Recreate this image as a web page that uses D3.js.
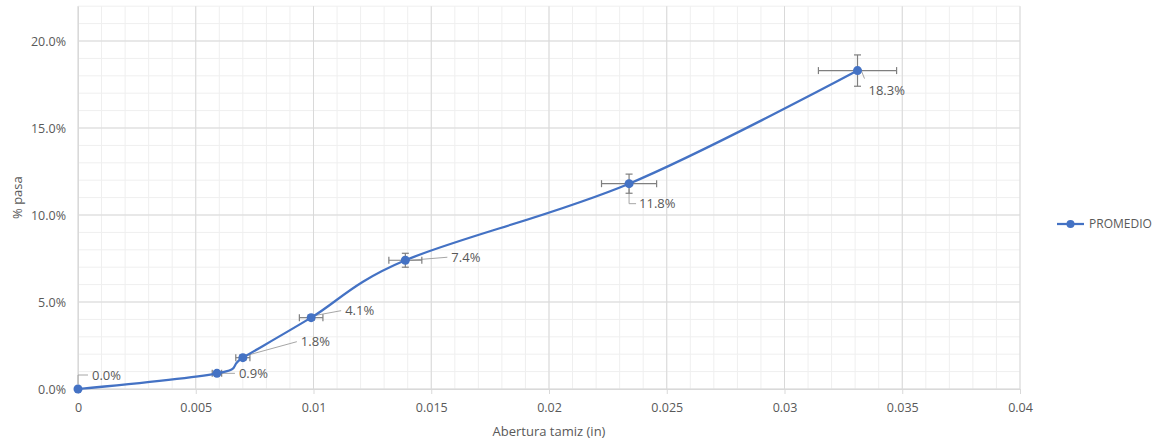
<!DOCTYPE html>
<html lang="es">
<head>
<meta charset="utf-8">
<title>% pasa vs Abertura tamiz</title>
<style>
  body { margin: 0; background: #fff; }
  svg text { font-family: "Open Sans", Lato, sans-serif; fill: #595959; }
</style>
</head>
<body>
<div id="chart"></div>
<script src="https://d3js.org/d3.v7.min.js"></script>
<script>
// data
var aberturas = [0, 0.0059, 0.0070, 0.0099, 0.0139, 0.0234, 0.0331];
var pasa      = [0, 0.009, 0.018, 0.041, 0.074, 0.118, 0.183];
var errX      = [0, 0.0002, 0.0003, 0.0005, 0.0007, 0.00117, 0.00166];
var errY      = [0, 0.0005, 0.0015, 0.0015, 0.004, 0.0055, 0.009];
var xTicks    = [0, 0.005, 0.01, 0.015, 0.02, 0.025, 0.03, 0.035, 0.04];
var yTicks    = [0, 0.05, 0.10, 0.15, 0.20];
var serieName = "PROMEDIO";

// where each data label sits relative to its point, and how the leader bends
var labelLayout = [
  {dx: 14, dy: -14, leader: "elbowUp"},
  {dx: 22, dy: 0,   leader: "straight"},
  {dx: 58, dy: -16, leader: "diag"},
  {dx: 34, dy: -7,  leader: "diag"},
  {dx: 46, dy: -3,  leader: "straight"},
  {dx: 10, dy: 20,  leader: "elbowDown"},
  {dx: 11, dy: 20,  leader: "diag"}
];

var W = 1169, H = 444;
var x = d3.scaleLinear().domain([0, 0.04]).range([78, 1020]);
var y = d3.scaleLinear().domain([0, 0.22]).range([389, 6.2]);

var svg = d3.select("#chart").append("svg")
    .attr("width", W).attr("height", H);

// minor grid
svg.append("g").selectAll("line")
    .data(d3.range(0, 0.0401, 0.001))
    .enter().append("line")
    .attr("x1", function (d) { return x(d); }).attr("x2", function (d) { return x(d); })
    .attr("y1", y(0)).attr("y2", y(0.22))
    .style("stroke", "#efefef").style("stroke-width", 1);
svg.append("g").selectAll("line")
    .data(d3.range(0, 0.2201, 0.01))
    .enter().append("line")
    .attr("x1", x(0)).attr("x2", x(0.04))
    .attr("y1", function (d) { return y(d); }).attr("y2", function (d) { return y(d); })
    .style("stroke", "#efefef").style("stroke-width", 1);

// major grid
svg.append("g").selectAll("line")
    .data(xTicks)
    .enter().append("line")
    .attr("x1", function (d) { return x(d); }).attr("x2", function (d) { return x(d); })
    .attr("y1", y(0)).attr("y2", y(0.22))
    .style("stroke", "#d9d9d9").style("stroke-width", 1);
svg.append("g").selectAll("line")
    .data(yTicks)
    .enter().append("line")
    .attr("x1", x(0)).attr("x2", x(0.04))
    .attr("y1", function (d) { return y(d); }).attr("y2", function (d) { return y(d); })
    .style("stroke", "#d9d9d9").style("stroke-width", 1);

// axes
var xAxis = svg.append("g")
    .attr("transform", "translate(0," + y(0) + ")")
    .call(d3.axisBottom(x).tickValues(xTicks).tickSize(5).tickPadding(9)
        .tickFormat(function (d) { return d === 0 ? "0" : String(+d.toFixed(3)); }));
var yAxis = svg.append("g")
    .attr("transform", "translate(" + x(0) + ",0)")
    .call(d3.axisLeft(y).tickValues(yTicks).tickSize(0).tickPadding(12)
        .tickFormat(d3.format(".1%")));
[xAxis, yAxis].forEach(function (a) {
  a.selectAll("path").style("stroke", "#d9d9d9");
  a.selectAll("line").style("stroke", "#d9d9d9");
  a.selectAll("text").style("font-size", "12.5px").style("fill", "#595959")
      .style("font-family", "'Open Sans', Lato, sans-serif");
});

// axis titles
svg.append("text")
    .attr("x", (x(0) + x(0.04)) / 2).attr("y", 436)
    .attr("text-anchor", "middle").style("font-size", "13px")
    .text("Abertura tamiz (in)");
svg.append("text")
    .attr("transform", "translate(22," + y(0.11) + ") rotate(-90)")
    .attr("text-anchor", "middle").style("font-size", "13px")
    .text("% pasa");

var points = aberturas.map(function (a, i) {
  return {x: a, y: pasa[i], ex: errX[i], ey: errY[i], lab: labelLayout[i]};
});

// data label leader lines + labels
var labels = svg.append("g");
points.forEach(function (p) {
  var px = x(p.x), py = y(p.y);
  var tx = px + p.lab.dx, ty = py + p.lab.dy;
  var path;
  if (p.lab.leader === "elbowUp") {
    path = "M" + px + "," + (py - 5) + "V" + ty + "H" + (tx - 4);
  } else if (p.lab.leader === "elbowDown") {
    path = "M" + px + "," + (py + 5) + "V" + ty + "H" + (tx - 3);
  } else if (p.lab.leader === "straight") {
    path = "M" + (px + 5) + "," + py + "L" + (tx - 4) + "," + ty;
  } else {
    path = "M" + (px + 3) + "," + (py - 2) + "L" + (tx - 4) + "," + (ty + (p.lab.dy > 0 ? -12 : 0));
  }
  labels.append("path").attr("d", path)
      .style("fill", "none").style("stroke", "#a6a6a6").style("stroke-width", 1);
  labels.append("text")
      .attr("x", tx).attr("y", ty).attr("dy", "0.35em")
      .style("font-size", "13px")
      .text(d3.format(".1%")(p.y));
});

// error bars
var eb = svg.append("g").style("stroke", "#7f7f7f").style("stroke-width", 1.2);
points.filter(function (p) { return p.ex > 0; }).forEach(function (p) {
  var px = x(p.x), py = y(p.y);
  var x0 = x(p.x - p.ex), x1 = x(p.x + p.ex);
  var y0 = y(p.y - p.ey), y1 = y(p.y + p.ey);
  eb.append("line").attr("x1", x0).attr("x2", x1).attr("y1", py).attr("y2", py);
  eb.append("line").attr("x1", x0).attr("x2", x0).attr("y1", py - 3.5).attr("y2", py + 3.5);
  eb.append("line").attr("x1", x1).attr("x2", x1).attr("y1", py - 3.5).attr("y2", py + 3.5);
  eb.append("line").attr("x1", px).attr("x2", px).attr("y1", y0).attr("y2", y1);
  eb.append("line").attr("x1", px - 3.5).attr("x2", px + 3.5).attr("y1", y0).attr("y2", y0);
  eb.append("line").attr("x1", px - 3.5).attr("x2", px + 3.5).attr("y1", y1).attr("y2", y1);
});

// line and markers
var line = d3.line()
    .x(function (d) { return x(d.x); })
    .y(function (d) { return y(d.y); })
    .curve(d3.curveCardinal.tension(0));
svg.append("path").datum(points)
    .attr("d", line)
    .style("fill", "none").style("stroke", "#4472c4").style("stroke-width", 2.25);
svg.append("g").selectAll("circle")
    .data(points).enter().append("circle")
    .attr("cx", function (d) { return x(d.x); })
    .attr("cy", function (d) { return y(d.y); })
    .attr("r", 4.5)
    .style("fill", "#4472c4");

// legend
var lg = svg.append("g").attr("transform", "translate(1057,224)");
lg.append("line").attr("x1", 0).attr("x2", 27).attr("y1", 0).attr("y2", 0)
    .style("stroke", "#4472c4").style("stroke-width", 2.25);
lg.append("circle").attr("cx", 13.5).attr("cy", 0).attr("r", 4).style("fill", "#4472c4");
lg.append("text").attr("x", 32).attr("y", 0).attr("dy", "0.35em")
    .style("font-size", "12px").text(serieName);
</script>
</body>
</html>
